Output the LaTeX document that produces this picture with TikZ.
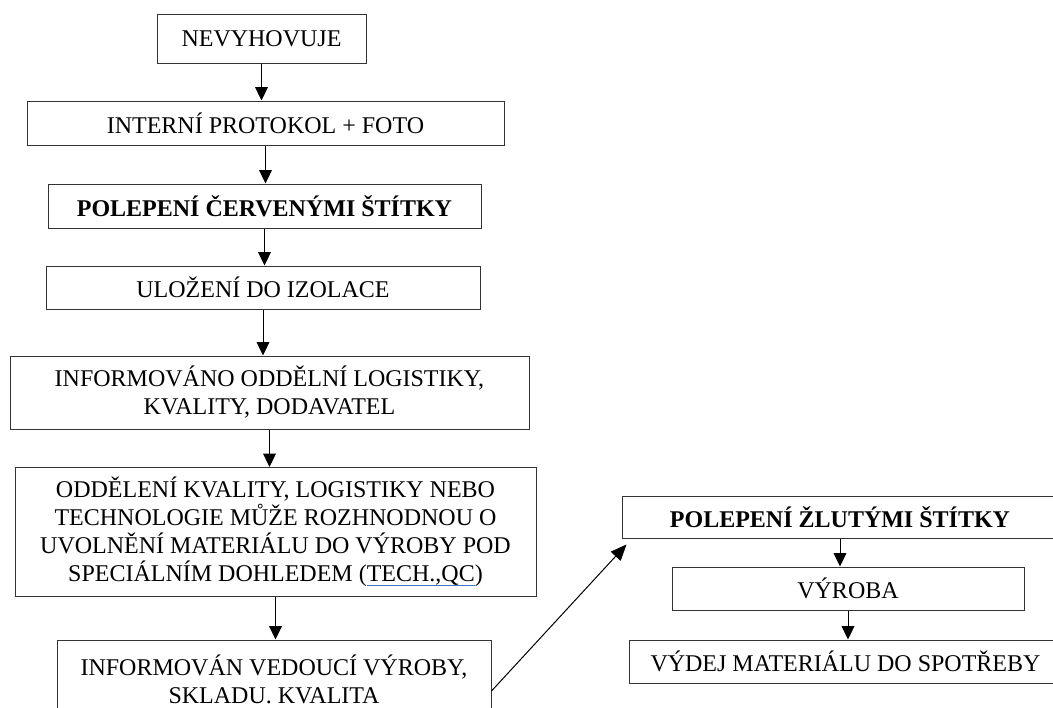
\documentclass[tikz,border=0pt]{standalone}
\usepackage{fontspec}
\setmainfont{Liberation Serif}
\usetikzlibrary{arrows.meta,calc}
\definecolor{linkblue}{RGB}{68,114,196}
\newcommand\blueul[1]{\setbox0\hbox{#1}\rlap{\color{linkblue}\rule[-3pt]{\wd0}{0.7pt}}\box0}

\tikzset{every picture/.style={line width=0.75pt}}
\tikzset{
  stepbox/.style={draw=black!80, align=center, inner sep=0pt, font=\fontsize{18}{21}\selectfont},
  flow/.style={draw=black, -{Triangle[length=10pt,width=9.5pt]}},
  flowlong/.style={draw=black, -{Triangle[length=12pt,width=10pt]}},
}

\begin{document}
\begin{tikzpicture}[x=0.75pt,y=0.75pt,yscale=-1,xscale=1]
\useasboundingbox (0,0) rectangle (1053,707);
\clip (0,0) rectangle (1053,707);

%Shape: Rectangle [left column]
\node [stepbox, minimum width=156.75pt, minimum height=36.75pt] (nev) at (261.5,38.5) {NEVYHOVUJE};
\node [stepbox, minimum width=357.75pt, minimum height=33pt] (int) at (265.5,123) {INTERNÍ PROTOKOL + FOTO};
\node [stepbox, minimum width=324.75pt, minimum height=33pt] (red) at (264.5,206) {\bfseries POLEPENÍ ČERVENÝMI ŠTÍTKY};
\node [stepbox, minimum width=325.5pt, minimum height=32.25pt] (ulo) at (263,287.5) {ULOŽENÍ DO IZOLACE};
\node [stepbox, minimum width=389.25pt, minimum height=54.75pt] (inf) at (269.5,392.5) {INFORMOVÁNO ODDĚLNÍ LOGISTIKY,\\ KVALITY, DODAVATEL};
\node [stepbox, minimum width=390.75pt, minimum height=96.75pt] (odd) at (275.5,532) {ODDĚLENÍ KVALITY, LOGISTIKY NEBO\\ TECHNOLOGIE MŮŽE ROZHNODNOU O\\ UVOLNĚNÍ MATERIÁLU DO VÝROBY POD\\ SPECIÁLNÍM DOHLEDEM (\blueul{TECH.,QC})};
\node [stepbox, minimum width=325.5pt, minimum height=58.5pt] (ved) at (274,679) {INFORMOVÁN VEDOUCÍ VÝROBY,\\ SKLADU. KVALITA};

%Shape: Rectangle [right column]
\node [stepbox, minimum width=327pt, minimum height=31.5pt] (yel) at (840,517) {\bfseries POLEPENÍ ŽLUTÝMI ŠTÍTKY};
\node [stepbox, minimum width=264pt, minimum height=32.25pt] (vyr) at (848,588.5) {VÝROBA};
\node [stepbox, minimum width=324.75pt, minimum height=32.25pt] (vyd) at (845.5,661.5) {VÝDEJ MATERIÁLU DO SPOTŘEBY};

%Straight Lines
\draw [flow] (nev.south) -- (nev.south |- int.north);
\draw [flow] (int.south) -- (int.south |- red.north);
\draw [flow] (red.south) -- (red.south |- ulo.north);
\draw [flow] (ulo.south) -- (ulo.south |- inf.north);
\draw [flow] (inf.south) -- (inf.south |- odd.north);
\draw [flow] (odd.south) -- (odd.south |- ved.north);
\draw [flowlong] ($(ved.east)+(0,12)$) -- ($(yel.south west)+(5,6)$);
\draw [flow] (yel.south) -- (yel.south |- vyr.north);
\draw [flow] (vyr.south) -- (vyr.south |- vyd.north);

\end{tikzpicture}
\end{document}
